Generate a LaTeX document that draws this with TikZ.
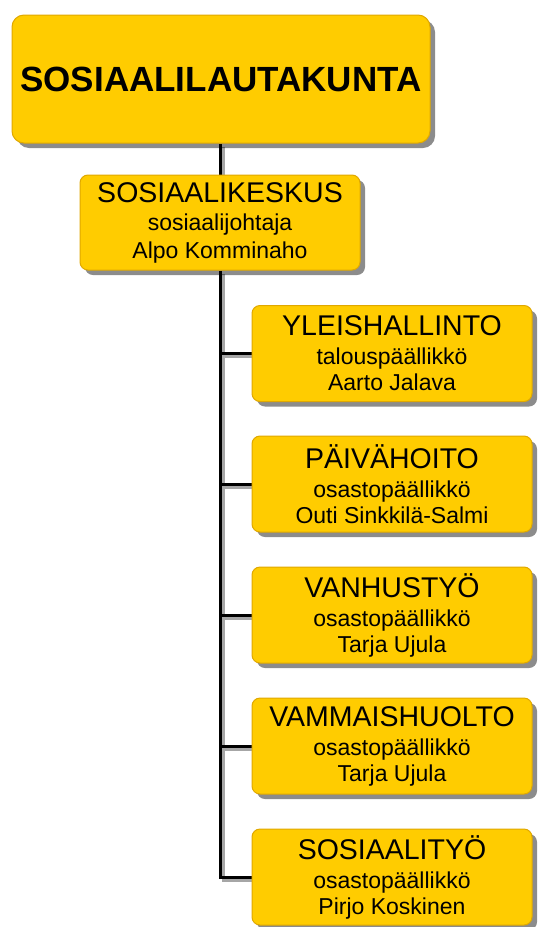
\documentclass[tikz,border=0pt]{standalone}
\usepackage{fontspec}
\setmainfont{Liberation Sans}
\usetikzlibrary{shadows,backgrounds}
\definecolor{kulta}{HTML}{FFCC00}
\definecolor{reuna}{HTML}{E0A800}
\newcommand{\otsikko}[1]{{\fontsize{28.5}{30}\selectfont #1}}
\tikzset{laatikko/.style={draw=reuna, line width=1pt, fill=kulta, rounded corners=8pt, inner sep=0pt, align=center,
    drop shadow={shadow xshift=5pt, shadow yshift=-5pt, fill=black, opacity=0.45}},
  yksikko/.style={laatikko, minimum width=280pt, minimum height=96pt, font=\fontsize{23}{26}\selectfont},
  linja/.style={black, line width=3pt, preaction={draw=black!35, line width=3pt, transform canvas={shift={(3pt,-3pt)}}}}}

\begin{document}
\begin{tikzpicture}[x=1pt,y=-1pt]
  \useasboundingbox (0,0) rectangle (538,927);
  \node[laatikko, minimum width=418pt, minimum height=128pt, rounded corners=12pt,
    font=\fontsize{35}{40}\selectfont\bfseries] (lautakunta) at (221,79) {SOSIAALILAUTAKUNTA};
  \node[laatikko, minimum width=280pt, minimum height=95pt, font=\fontsize{23}{28}\selectfont]
    (keskus) at (220,222.5) {\otsikko{SOSIAALIKESKUS}\\ sosiaalijohtaja\\ Alpo Komminaho};
  \node[yksikko] (yleis) at (392,353.5) {\otsikko{YLEISHALLINTO}\\[3pt] talouspäällikkö\\ Aarto Jalava};
  \node[yksikko] (paiva) at (392,484) {\otsikko{PÄIVÄHOITO}\\[3pt] osastopäällikkö\\ Outi Sinkkilä-Salmi};
  \node[yksikko] (vanhus) at (392,615) {\otsikko{VANHUSTYÖ}\\[3pt] osastopäällikkö\\ Tarja Ujula};
  \node[yksikko] (vammais) at (392,746) {\otsikko{VAMMAISHUOLTO}\\[3pt] osastopäällikkö\\ Tarja Ujula};
  \node[yksikko] (sostyo) at (392,877) {\otsikko{SOSIAALITYÖ}\\[3pt] osastopäällikkö\\ Pirjo Koskinen};
  \begin{scope}[on background layer]
   \draw[linja] (lautakunta.south -| keskus.north) -- (keskus.north);
   \draw[linja] (keskus.south) |- (sostyo.west);
   \draw[linja] (keskus.south |- yleis.west) -- (yleis.west);
   \draw[linja] (keskus.south |- paiva.west) -- (paiva.west);
   \draw[linja] (keskus.south |- vanhus.west) -- (vanhus.west);
   \draw[linja] (keskus.south |- vammais.west) -- (vammais.west);
  \end{scope}
\end{tikzpicture}
\end{document}
